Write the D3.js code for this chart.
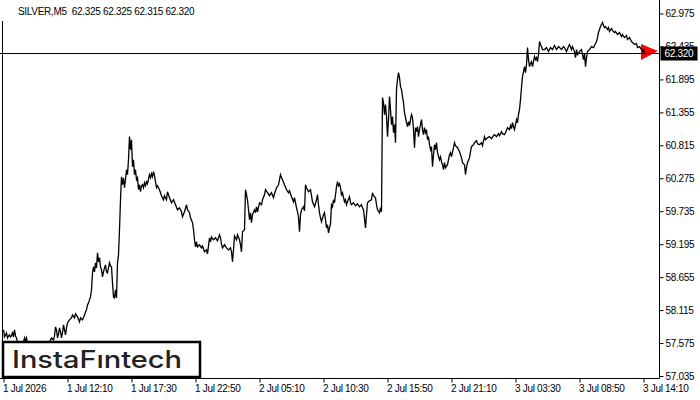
<!DOCTYPE html>
<html>
<head>
<meta charset="utf-8">
<script src="https://cdn.jsdelivr.net/npm/d3@7"></script>
<style>
  body { margin: 0; background: #fff; }
  svg { display: block; }
</style>
</head>
<body>
<div id="container"></div>
<script>
// header: symbol + last bar open/high/low/close
const symbol = "SILVER,M5"
const lastOHLC = [62.325, 62.325, 62.315, 62.320]
const bidPrice = 62.320

const priceTicks = [57.035, 57.575, 58.115, 58.655, 59.195, 59.735, 60.275, 60.815, 61.355, 61.895, 62.435, 62.975]

// time axis is bar-based (M5 bars), a label every 64 bars
const timeTickBars = [0, 64, 128, 192, 256, 320, 384, 448, 512, 576, 640]
const timeTickLabels = ["1 Jul 2026", "1 Jul 12:10", "1 Jul 17:30", "1 Jul 22:50", "2 Jul 05:10",
  "2 Jul 10:30", "2 Jul 15:50", "2 Jul 21:10", "3 Jul 03:30", "3 Jul 08:50", "3 Jul 14:10"]

// [bar number, close]
const closes = [
  [0,57.790],[1,57.675],[2,57.708],[3,57.741],[4,57.659],[5,57.691],[6,57.708],[7,57.675],[8,57.691],[9,57.757],
  [10,57.675],[11,57.790],[12,57.691],[13,57.659],[14,57.593],[16,57.544],[18,57.560],[20,57.593],[21,57.659],[22,57.609],
  [23,57.659],[24,57.576],[26,57.527],[29,57.511],[32,57.544],[35,57.494],[38,57.527],[41,57.560],[44,57.544],[46,57.593],
  [48,57.659],[50,57.626],[51,57.691],[52,57.839],[53,57.790],[54,57.659],[55,57.724],[56,57.823],[57,57.757],[58,57.659],
  [59,57.741],[60,57.872],[61,57.790],[62,57.708],[63,57.823],[64,57.905],[66,57.954],[68,57.987],[69,58.036],[71,57.987],
  [72,58.052],[74,58.003],[76,57.921],[77,57.987],[79,57.954],[81,58.036],[82,58.085],[83,58.118],[84,58.200],[85,58.233],
  [86,58.282],[87,58.331],[88,58.446],[89,58.725],[90,58.823],[91,58.741],[92,58.889],[93,58.807],[94,59.053],[95,58.906],
  [96,58.971],[97,58.823],[98,58.774],[99,58.659],[100,58.741],[101,58.807],[102,58.856],[103,58.741],[104,58.725],[105,58.807],
  [106,58.889],[107,58.840],[108,58.823],[109,58.561],[110,58.331],[111,58.315],[112,58.446],[113,58.315],[114,58.889],[115,59.020],
  [116,59.431],[117,59.923],[118,60.300],[119,60.169],[120,60.284],[121,60.120],[122,60.251],[123,60.415],[124,60.333],[125,60.579],
  [126,60.957],[127,60.743],[128,60.907],[129,60.464],[130,60.579],[131,60.333],[132,60.415],[133,60.251],[134,60.284],[135,60.087],
  [136,60.169],[137,60.054],[138,60.153],[139,60.169],[140,60.120],[141,60.202],[142,60.153],[143,60.218],[144,60.185],[146,60.333],
  [147,60.284],[148,60.350],[149,60.300],[150,60.382],[151,60.317],[152,60.218],[153,60.120],[154,60.153],[156,60.087],[158,59.989],
  [160,59.923],[161,59.989],[163,59.923],[164,60.054],[166,59.956],[168,59.874],[170,59.923],[172,59.841],[174,59.759],[176,59.792],
  [178,59.726],[179,59.644],[181,59.726],[183,59.841],[184,59.759],[186,59.710],[187,59.628],[189,59.546],[190,59.431],[191,59.267],
  [192,59.152],[193,59.234],[194,59.152],[196,59.185],[198,59.135],[199,59.168],[201,59.070],[203,59.102],[204,59.037],[205,59.168],
  [206,59.299],[207,59.234],[208,59.316],[210,59.267],[212,59.299],[214,59.250],[216,59.349],[217,59.299],[218,59.201],[219,59.135],
  [221,59.185],[223,59.135],[225,59.102],[227,59.135],[228,59.070],[229,58.906],[230,59.102],[231,59.332],[233,59.267],[234,59.349],
  [236,59.267],[237,59.185],[238,59.070],[239,59.398],[241,59.431],[242,60.087],[243,60.005],[244,59.923],[245,59.759],[246,59.595],
  [247,59.710],[248,59.546],[249,59.677],[251,59.759],[252,59.710],[253,59.808],[254,59.726],[256,59.874],[258,59.841],[259,59.923],
  [261,60.005],[262,60.087],[264,60.038],[266,59.989],[268,60.038],[270,59.956],[271,60.021],[273,60.120],[275,60.169],[276,60.251],
  [277,60.333],[278,60.284],[279,60.251],[281,60.169],[283,60.087],[285,60.038],[286,60.071],[288,59.972],[290,59.890],[291,59.956],
  [293,59.792],[294,59.726],[295,59.644],[296,59.398],[297,59.677],[298,59.759],[300,59.808],[301,59.742],[302,60.169],[303,60.120],
  [305,60.054],[307,60.087],[308,59.989],[309,59.890],[311,59.808],[313,59.923],[314,60.005],[315,59.841],[316,59.710],[317,59.628],
  [318,59.562],[320,59.677],[321,59.710],[322,59.595],[323,59.463],[324,59.513],[325,59.381],[326,59.463],[327,59.529],[328,59.841],
  [329,59.808],[330,59.923],[331,59.874],[333,60.136],[334,60.218],[335,60.153],[336,60.185],[337,60.120],[338,60.005],[339,60.038],
  [341,59.890],[342,59.923],[343,59.841],[344,59.890],[346,59.972],[347,59.874],[348,59.841],[350,59.874],[352,59.824],[354,59.857],
  [356,59.808],[358,59.841],[359,59.792],[360,59.759],[362,59.463],[363,59.677],[364,59.874],[366,59.906],[368,59.923],[369,60.038],
  [370,59.989],[372,59.956],[373,59.841],[374,59.759],[376,59.710],[377,59.792],[378,59.726],[379,61.597],[380,61.515],[381,61.318],
  [382,61.482],[383,61.285],[384,60.957],[385,61.236],[386,61.613],[387,61.400],[388,61.154],[389,61.285],[390,61.022],[391,61.154],
  [392,60.858],[393,61.728],[394,61.892],[395,62.007],[396,61.925],[397,61.777],[398,61.728],[399,61.613],[400,61.515],[401,61.351],
  [402,61.268],[403,61.186],[404,61.121],[405,61.203],[406,61.137],[407,61.236],[408,61.318],[409,61.268],[410,61.072],[411,60.776],
  [412,61.104],[413,61.039],[414,61.121],[415,60.957],[416,61.072],[417,61.154],[418,61.236],[419,61.072],[420,60.990],[421,61.104],
  [422,61.022],[423,61.072],[424,60.907],[425,60.957],[426,60.825],[427,60.743],[428,60.793],[429,60.464],[430,60.661],[431,60.825],
  [432,60.743],[433,60.858],[434,60.694],[436,60.579],[437,60.628],[438,60.546],[439,60.497],[440,60.415],[441,60.530],[442,60.448],
  [444,60.497],[446,60.661],[447,60.694],[448,60.628],[450,60.776],[451,60.858],[452,60.809],[454,60.776],[456,60.711],[458,60.612],
  [459,60.530],[461,60.497],[462,60.333],[463,60.448],[464,60.530],[466,60.612],[467,60.711],[468,60.793],[470,60.825],[471,60.858],
  [473,60.891],[474,60.842],[476,60.825],[478,60.858],[479,60.809],[481,60.957],[482,60.907],[484,60.940],[486,60.957],[488,60.924],
  [490,60.973],[491,60.990],[493,60.957],[495,61.006],[496,60.973],[498,61.039],[499,61.006],[501,60.990],[502,61.022],[504,61.104],
  [506,61.072],[507,61.137],[508,61.088],[509,61.186],[510,61.121],[511,61.072],[512,61.154],[513,61.236],[514,61.186],[515,61.318],
  [516,61.400],[517,61.564],[518,61.761],[519,61.941],[520,62.023],[521,62.105],[522,62.007],[523,62.138],[524,62.417],[525,62.220],
  [526,62.105],[527,62.155],[528,62.187],[529,62.105],[530,62.187],[531,62.269],[532,62.220],[533,62.253],[534,62.187],[535,62.302],
  [536,62.515],[537,62.466],[538,62.433],[539,62.384],[541,62.384],[543,62.417],[545,62.351],[547,62.417],[549,62.384],[551,62.450],
  [553,62.384],[555,62.433],[556,62.417],[558,62.384],[560,62.433],[561,62.417],[563,62.351],[565,62.433],[566,62.466],[568,62.384],
  [569,62.433],[571,62.351],[572,62.253],[573,62.384],[574,62.302],[576,62.351],[578,62.384],[579,62.302],[580,62.220],[581,62.319],
  [582,62.105],[583,62.253],[584,62.351],[586,62.384],[588,62.433],[590,62.417],[591,62.450],[593,62.515],[594,62.581],[595,62.663],
  [596,62.712],[597,62.762],[598,62.794],[599,62.827],[600,62.778],[601,62.745],[602,62.762],[604,62.712],[605,62.745],[606,62.680],
  [608,62.729],[609,62.696],[611,62.663],[612,62.680],[614,62.630],[616,62.663],[618,62.598],[619,62.630],[621,62.581],[623,62.614],
  [624,62.548],[626,62.581],[628,62.515],[629,62.499],[631,62.466],[633,62.483],[634,62.417],[636,62.433],[638,62.384],[639,62.351],
  [640,62.384],[641,62.320]
]

const width = 700,
  height = 400,
  margin = { top: 13.5, right: 40.5, bottom: 21.5, left: 3 };

const axisFont = "'Liberation Sans', Arial, sans-serif"

const svg = d3.select("#container")
  .append("svg")
  .attr("width", width)
  .attr("height", height)
  .style("background-color", "#fff")

const xScale = d3.scaleLinear()
  .domain([0, 656])
  .range([3.5, 659.5])

const yScale = d3.scaleLinear()
  .domain([57.035, 62.975])
  .range([376, 13.5])

const plotRight = width - margin.right   // 659.5
const plotBottom = height - margin.bottom // 378.5

// frame
svg.append("line")
  .attr("x1", plotRight).attr("x2", plotRight)
  .attr("y1", 0).attr("y2", plotBottom)
  .attr("stroke", "#000")
svg.append("line")
  .attr("x1", 0).attr("x2", plotRight)
  .attr("y1", plotBottom).attr("y2", plotBottom)
  .attr("stroke", "#000")
svg.append("line")
  .attr("x1", 2.5).attr("x2", 2.5)
  .attr("y1", 21).attr("y2", plotBottom)
  .attr("stroke", "#000")

// right price axis
const yAxisGroup = svg.append("g")
  .attr("transform", `translate(${plotRight},0)`)
  .call(d3.axisRight(yScale)
    .tickValues(priceTicks)
    .tickFormat(d3.format(".3f"))
    .tickSize(4)
    .tickPadding(2)
    .tickSizeOuter(0))
yAxisGroup.select(".domain").remove()
yAxisGroup.selectAll(".tick line").attr("stroke", "#000")
yAxisGroup.selectAll(".tick text")
  .attr("fill", "#000")
  .style("font-family", axisFont)
  .style("font-size", "10px")
  .style("letter-spacing", "-0.3px")

// bottom time axis
const xAxisGroup = svg.append("g")
  .attr("transform", `translate(0,${plotBottom})`)
  .call(d3.axisBottom(xScale)
    .tickValues(timeTickBars)
    .tickFormat((d, i) => timeTickLabels[i])
    .tickSize(4)
    .tickPadding(2.5)
    .tickSizeOuter(0))
xAxisGroup.select(".domain").remove()
xAxisGroup.selectAll(".tick line").attr("stroke", "#000")
xAxisGroup.selectAll(".tick text")
  .attr("text-anchor", "start")
  .attr("x", -1)
  .attr("fill", "#000")
  .style("font-family", axisFont)
  .style("font-size", "10px")
  .style("letter-spacing", "-0.3px")

// red price marker at the last bar
const lastPoint = closes[closes.length - 1]
const mx = xScale(lastPoint[0]), my = Math.round(yScale(bidPrice)) + 0.5
svg.append("polygon")
  .attr("points", [[mx - 3.5, my - 9.5], [mx + 13.5, my - 2.5], [mx - 3.5, my + 6.5]].map(p => p.join(",")).join(" "))
  .attr("fill", "#ff0000")

// price line
const line = d3.line()
  .x(d => xScale(d[0]))
  .y(d => yScale(d[1]))

svg.append("path")
  .datum(closes)
  .attr("fill", "none")
  .attr("stroke", "#000")
  .attr("stroke-width", 1.3)
  .attr("stroke-linejoin", "miter")
  .attr("d", line)

// bid line
svg.append("line")
  .attr("x1", 0).attr("x2", plotRight)
  .attr("y1", my).attr("y2", my)
  .attr("stroke", "#000")

// bid label box
svg.append("rect")
  .attr("x", plotRight + 1)
  .attr("y", my - 7)
  .attr("width", 37)
  .attr("height", 14)
  .attr("fill", "#000")
svg.append("text")
  .attr("x", plotRight + 5)
  .attr("y", my)
  .attr("dy", "0.35em")
  .attr("fill", "#fff")
  .style("font-family", axisFont)
  .style("font-size", "10px")
  .style("letter-spacing", "-0.3px")
  .text(d3.format(".3f")(bidPrice))

// header
svg.append("text")
  .attr("x", 18)
  .attr("y", 15)
  .attr("fill", "#000")
  .style("font-family", axisFont)
  .style("font-size", "10px")
  .style("letter-spacing", "-0.3px")
  .attr("xml:space", "preserve")
  .text(symbol + "  " + lastOHLC.map(d3.format(".3f")).join(" "))

// logo
svg.append("rect")
  .attr("x", 3)
  .attr("y", 342)
  .attr("width", 197)
  .attr("height", 35)
  .attr("fill", "#fff")
  .attr("stroke", "#000")
  .attr("stroke-width", 2.5)
svg.append("text")
  .attr("x", 12)
  .attr("y", 367.5)
  .attr("fill", "#222")
  .attr("textLength", 170)
  .attr("lengthAdjust", "spacingAndGlyphs")
  .style("font-family", "Inter, 'Open Sans', sans-serif")
  .style("font-size", "24px")
  .style("font-weight", "500")
  .text("InstaFıntech")
</script>
</body>
</html>
